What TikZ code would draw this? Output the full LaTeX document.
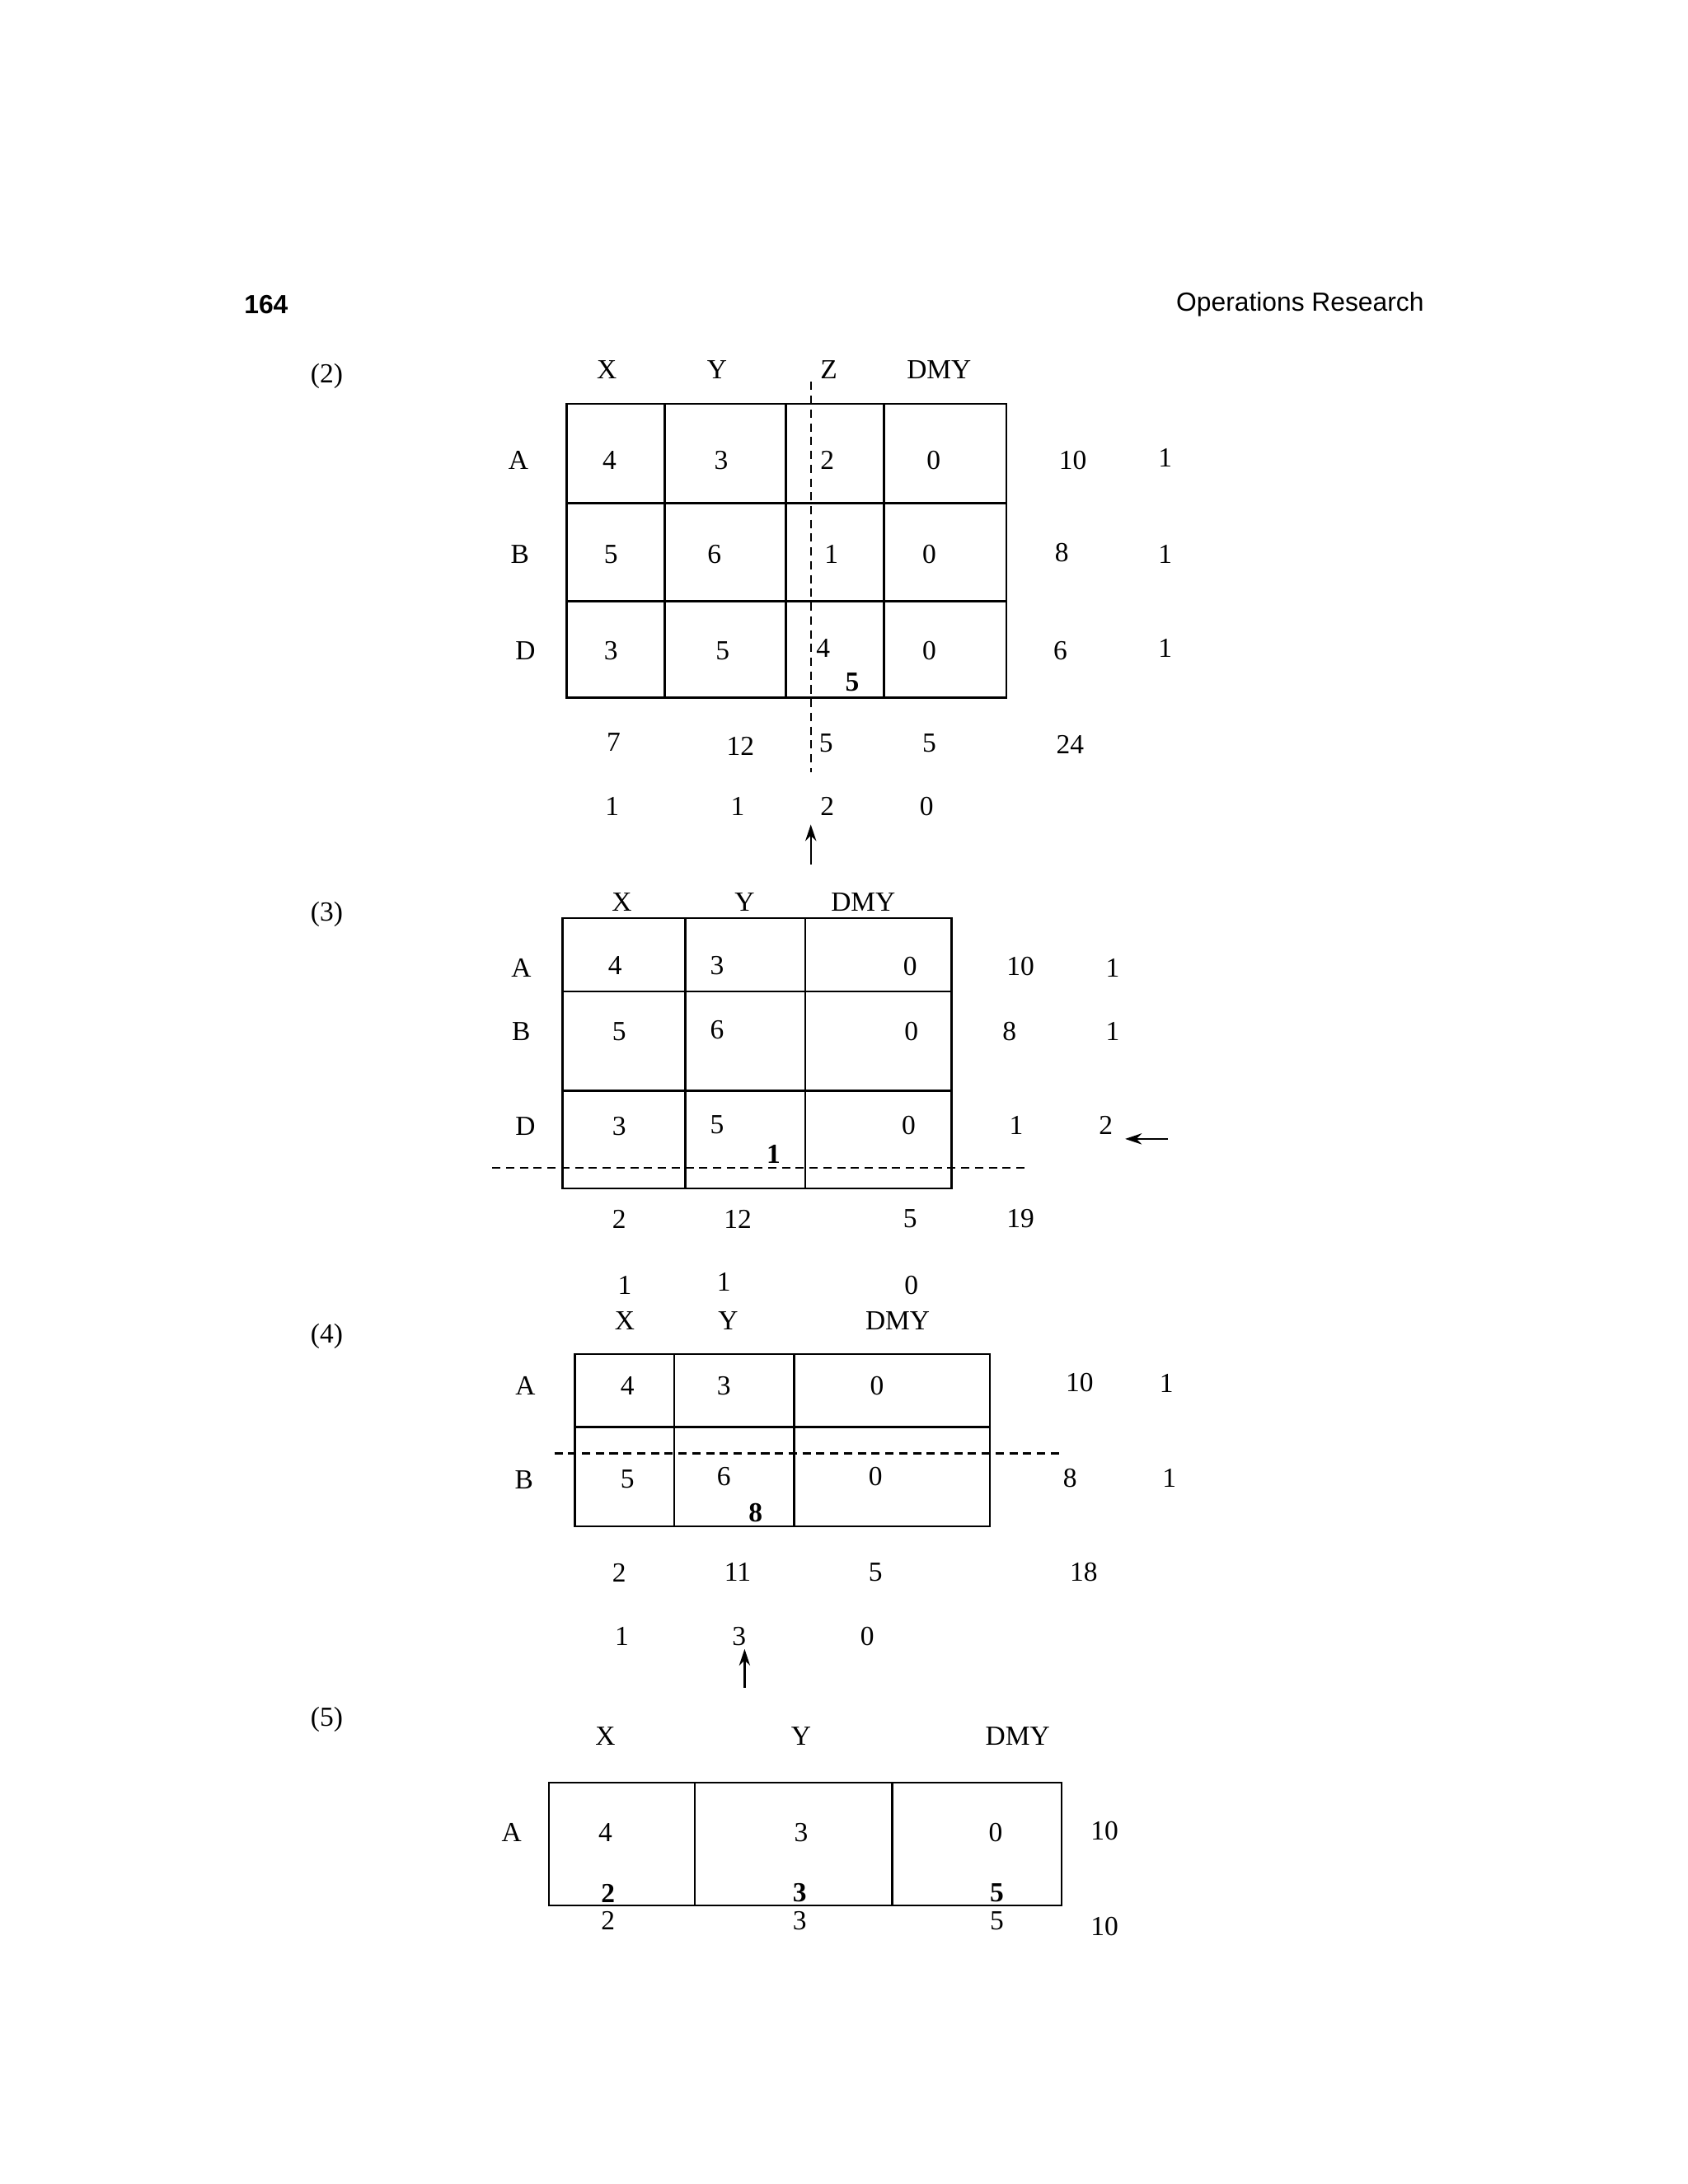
\documentclass[tikz,border=0pt]{standalone}
\usepackage{fontspec}
\setmainfont{Liberation Serif}
\newfontfamily\hdr{Liberation Sans}
\usetikzlibrary{arrows.meta}
\newcommand{\tx}[4]{\node[txt] (#1) at (#2,#3) {#4};}
\newcommand{\bx}[4]{\node[txt,font=\fontsize{10}{12}\selectfont\bfseries] (#1) at (#2,#3) {#4};}
\begin{document}
\begin{tikzpicture}[x=0.5pt,y=-0.5pt,
  txt/.style={inner sep=0pt,font=\fontsize{10}{12}\selectfont},
  grid/.style={line width=0.7pt},
  dashline/.style={line width=0.7pt,dash pattern=on 3pt off 2pt},
  arr/.style={line width=0.7pt,-{Stealth[length=6pt,width=4pt]}}]
\useasboundingbox (0,0) rectangle (1224,1584);
\node[inner sep=0pt,font=\hdr\bfseries\fontsize{9.5}{11}\selectfont] (pg) at (193,221) {164};
\node[inner sep=0pt,anchor=east,font=\hdr\fontsize{9.5}{11}\selectfont] (ti) at (1033,221) {Operations Research};
% (2)
\tx{l2}{237}{273}{(2)}
\draw[grid] (411,293) rectangle (730,506);
\foreach \x in {482,570,641} \draw[grid] (\x,293) -- (\x,506);
\foreach \y in {365,436} \draw[grid] (411,\y) -- (730,\y);
\coordinate (d2a) at (588,277); \coordinate (d2b) at (588,560);
\draw[dashline] (d2a) -- (d2b);
\tx{a1}{440}{268}{X}\tx{a2}{520}{268}{Y}\tx{a3}{601}{268}{Z}\tx{a4}{681}{268}{DMY}
\tx{a5}{376}{334}{A}\tx{a6}{377}{402}{B}\tx{a7}{381}{472}{D}
\tx{b1}{442}{334}{4}\tx{b2}{523}{334}{3}\tx{b3}{600}{334}{2}\tx{b4}{677}{334}{0}
\tx{b5}{443}{402}{5}\tx{b6}{518}{402}{6}\tx{b7}{603}{402}{1}\tx{b8}{674}{402}{0}
\tx{b9}{443}{472}{3}\tx{b10}{524}{472}{5}\tx{b11}{597}{470}{4}\tx{b12}{674}{472}{0}
\bx{b13}{618}{495}{5}
\tx{c1}{778}{334}{10}\tx{c2}{845}{332}{1}\tx{c3}{770}{401}{8}\tx{c4}{845}{402}{1}\tx{c5}{769}{472}{6}\tx{c6}{845}{470}{1}
\tx{d1}{445}{538}{7}\tx{d2}{537}{541}{12}\tx{d3}{599}{539}{5}\tx{d4}{674}{539}{5}\tx{d5}{776}{540}{24}
\tx{e1}{444}{585}{1}\tx{e2}{535}{585}{1}\tx{e3}{600}{585}{2}\tx{e4}{672}{585}{0}
\coordinate (r2a) at (588,627); \coordinate (r2b) at (588,598);
\draw[arr] (r2a) -- (r2b);
% (3)
\tx{l3}{237}{663}{(3)}
\draw[grid] (408,666) rectangle (690,862);
\foreach \x in {497,584} \draw[grid] (\x,666) -- (\x,862);
\foreach \y in {719,791} \draw[grid] (408,\y) -- (690,\y);
\coordinate (d3a) at (357,847); \coordinate (d3b) at (743,847);
\draw[dashline] (d3a) -- (d3b);
\tx{f1}{451}{654}{X}\tx{f2}{540}{654}{Y}\tx{f3}{626}{654}{DMY}
\tx{f4}{378}{702}{A}\tx{f5}{378}{748}{B}\tx{f6}{381}{817}{D}
\tx{g1}{446}{700}{4}\tx{g2}{520}{700}{3}\tx{g3}{660}{701}{0}
\tx{g4}{449}{748}{5}\tx{g5}{520}{747}{6}\tx{g6}{661}{748}{0}
\tx{g7}{449}{817}{3}\tx{g8}{520}{816}{5}\tx{g9}{659}{816}{0}
\bx{g10}{561}{837}{1}
\tx{h1}{740}{701}{10}\tx{h2}{807}{702}{1}\tx{h3}{732}{748}{8}\tx{h4}{807}{748}{1}\tx{h5}{737}{816}{1}\tx{h6}{802}{816}{2}
\coordinate (r3a) at (847,826); \coordinate (r3b) at (816,826);
\draw[arr] (r3a) -- (r3b);
\tx{i1}{449}{884}{2}\tx{i2}{535}{884}{12}\tx{i3}{660}{884}{5}\tx{i4}{740}{884}{19}
\tx{i5}{453}{932}{1}\tx{i6}{525}{930}{1}\tx{i7}{661}{932}{0}
% (4)
\tx{l4}{237}{969}{(4)}
\draw[grid] (417,982) rectangle (718,1107);
\foreach \x in {489,576} \draw[grid] (\x,982) -- (\x,1107);
\draw[grid] (417,1035) -- (718,1035);
\coordinate (d4a) at (402,1054); \coordinate (d4b) at (769,1054);
\draw[dashline] (d4a) -- (d4b);
\tx{j1}{453}{958}{X}\tx{j2}{528}{958}{Y}\tx{j3}{651}{958}{DMY}
\tx{j4}{381}{1005}{A}\tx{j5}{380}{1073}{B}
\tx{k1}{455}{1005}{4}\tx{k2}{525}{1005}{3}\tx{k3}{636}{1005}{0}
\tx{k4}{455}{1073}{5}\tx{k5}{525}{1071}{6}\tx{k6}{635}{1071}{0}
\bx{k7}{548}{1097}{8}
\tx{m1}{783}{1003}{10}\tx{m2}{846}{1003}{1}\tx{m3}{776}{1072}{8}\tx{m4}{848}{1072}{1}
\tx{n1}{449}{1141}{2}\tx{n2}{535}{1140}{11}\tx{n3}{635}{1140}{5}\tx{n4}{786}{1140}{18}
\tx{n5}{451}{1187}{1}\tx{n6}{536}{1187}{3}\tx{n7}{629}{1187}{0}
\coordinate (r4a) at (540,1224); \coordinate (r4b) at (540,1196);
\draw[arr] (r4a) -- (r4b);
% (5)
\tx{l5}{237}{1247}{(5)}
\draw[grid] (398,1293) rectangle (770,1382);
\foreach \x in {504,647} \draw[grid] (\x,1293) -- (\x,1382);
\tx{o1}{439}{1259}{X}\tx{o2}{581}{1259}{Y}\tx{o3}{738}{1259}{DMY}
\tx{o4}{371}{1329}{A}
\tx{p1}{439}{1329}{4}\tx{p2}{581}{1329}{3}\tx{p3}{722}{1329}{0}\tx{p4}{801}{1328}{10}
\bx{q1}{441}{1373}{2}\bx{q2}{580}{1373}{3}\bx{q3}{723}{1373}{5}
\tx{q4}{441}{1393}{2}\tx{q5}{580}{1393}{3}\tx{q6}{723}{1393}{5}\tx{q7}{801}{1397}{10}
\end{tikzpicture}
\end{document}
